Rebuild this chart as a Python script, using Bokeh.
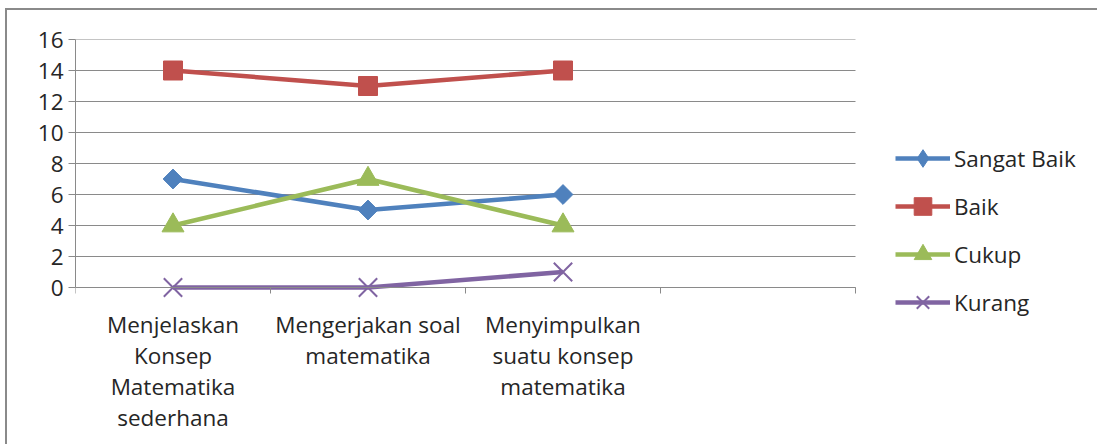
from bokeh.plotting import figure
from bokeh.models import Legend, LegendItem, FixedTicker, Range1d, ColumnDataSource
from bokeh.embed import file_html
from bokeh.resources import INLINE
import math

categories = ["Menjelaskan\nKonsep\nMatematika\nsederhana",
              "Mengerjakan soal\nmatematika",
              "Menyimpulkan\nsuatu konsep\nmatematika",
              ""]
series_names = ["Sangat Baik", "Baik", "Cukup", "Kurang"]
sangat_baik = [7, 5, 6]
baik = [14, 13, 14]
cukup = [4, 7, 4]
kurang = [0, 0, 1]
y_ticks = [0, 2, 4, 6, 8, 10, 12, 14, 16]

colors = ["#4F81BD", "#C0504D", "#9BBB59", "#8064A2"]
FONT = "Open Sans"
FS = "22.5px"

# layout (pixels): category width 195, value->pixel 248/16
W, H = 1092, 436
LEFT, TOP = 68, 29
CAT_PX = 195.0
Y_PX = 248.0 / 16
FRAME_W = 1015
FRAME_H = H - TOP
ncat = len(categories)
ymax = y_ticks[-1]
x_end = FRAME_W / CAT_PX
y_start = ymax - FRAME_H / Y_PX

p = figure(width=W, height=H, output_backend="svg", toolbar_location=None,
           x_range=Range1d(0, x_end), y_range=Range1d(y_start, ymax),
           min_border_left=LEFT, min_border_top=TOP,
           min_border_right=W - LEFT - FRAME_W, min_border_bottom=0)
p.styles = {"border-top": "2px solid #8a8a8a", "border-left": "2px solid #8a8a8a",
            "margin-left": "5px", "margin-top": "8px"}
p.outline_line_color = None
p.background_fill_color = "white"
p.border_fill_color = "white"

# gridlines only across the category area
p.xgrid.visible = False
p.ygrid.visible = False
p.segment(x0=[0] * len(y_ticks), x1=[ncat] * len(y_ticks), y0=y_ticks, y1=y_ticks,
          line_color="#8a8a8a", line_width=1)

# x axis at value 0
centers = [i + 0.5 for i in range(ncat)]
p.xaxis.fixed_location = 0
p.xaxis.bounds = (0, ncat)
p.xaxis.ticker = FixedTicker(ticks=centers, minor_ticks=list(range(ncat + 1)))
p.xaxis.major_label_overrides = {c: lab for c, lab in zip(centers, categories)}
p.xaxis.major_tick_line_color = None
p.xaxis.minor_tick_out = 6
p.xaxis.minor_tick_in = 0
p.xaxis.minor_tick_line_color = "#8a8a8a"
p.xaxis.axis_line_color = "#8a8a8a"
p.xaxis.major_label_standoff = 15
p.xaxis.major_label_text_font = FONT
p.xaxis.major_label_text_font_size = FS
p.xaxis.major_label_text_color = "#262626"
p.xaxis.major_label_text_line_height = 1.0

p.yaxis.bounds = (0, ymax)
p.yaxis.ticker = FixedTicker(ticks=y_ticks)
p.yaxis.minor_tick_line_color = None
p.yaxis.major_tick_out = 7
p.yaxis.major_tick_in = 0
p.yaxis.major_tick_line_color = "#8a8a8a"
p.yaxis.axis_line_color = "#8a8a8a"
p.yaxis.major_label_standoff = 5
p.yaxis.major_label_text_font = FONT
p.yaxis.major_label_text_font_size = FS
p.yaxis.major_label_text_color = "#262626"

xs = centers[:3]
data = [sangat_baik, baik, cukup, kurang]
markers = ["square", "square", "triangle", "x"]
legend_markers = ["diamond", "square", "triangle", "x"]
sizes = [14, 19, 22, 26]
angles = [math.pi / 4, 0, 0, 0]

items = []
for name, vals, col, mk, lmk, sz, ang in zip(series_names, data, colors, markers,
                                             legend_markers, sizes, angles):
    src = ColumnDataSource(dict(x=xs, y=vals))
    ln = p.line("x", "y", source=src, line_color=col, line_width=4.5)
    if lmk != mk:
        # small marker hidden under the plotted one; used for the legend sample
        lsc = p.scatter("x", "y", source=src, marker=lmk, size=6,
                        fill_color=col, line_color=col)
    if mk == "x":
        sc = p.scatter("x", "y", source=src, marker=mk, size=sz, line_color=col, line_width=2)
    else:
        sc = p.scatter("x", "y", source=src, marker=mk, size=sz, angle=ang,
                       fill_color=col, line_color=col)
    if lmk == mk:
        lsc = sc
    items.append(LegendItem(label=name, renderers=[ln, lsc]))

legend = Legend(items=items, location=(820, 122), orientation="vertical",
                label_text_font=FONT, label_text_font_size=FS, label_text_color="#262626",
                glyph_width=55, glyph_height=44, label_height=44, spacing=4,
                label_standoff=4, padding=0, margin=0,
                border_line_color=None, background_fill_alpha=0)
p.add_layout(legend, "center")

open("out.html", "w").write(file_html(p, INLINE))
